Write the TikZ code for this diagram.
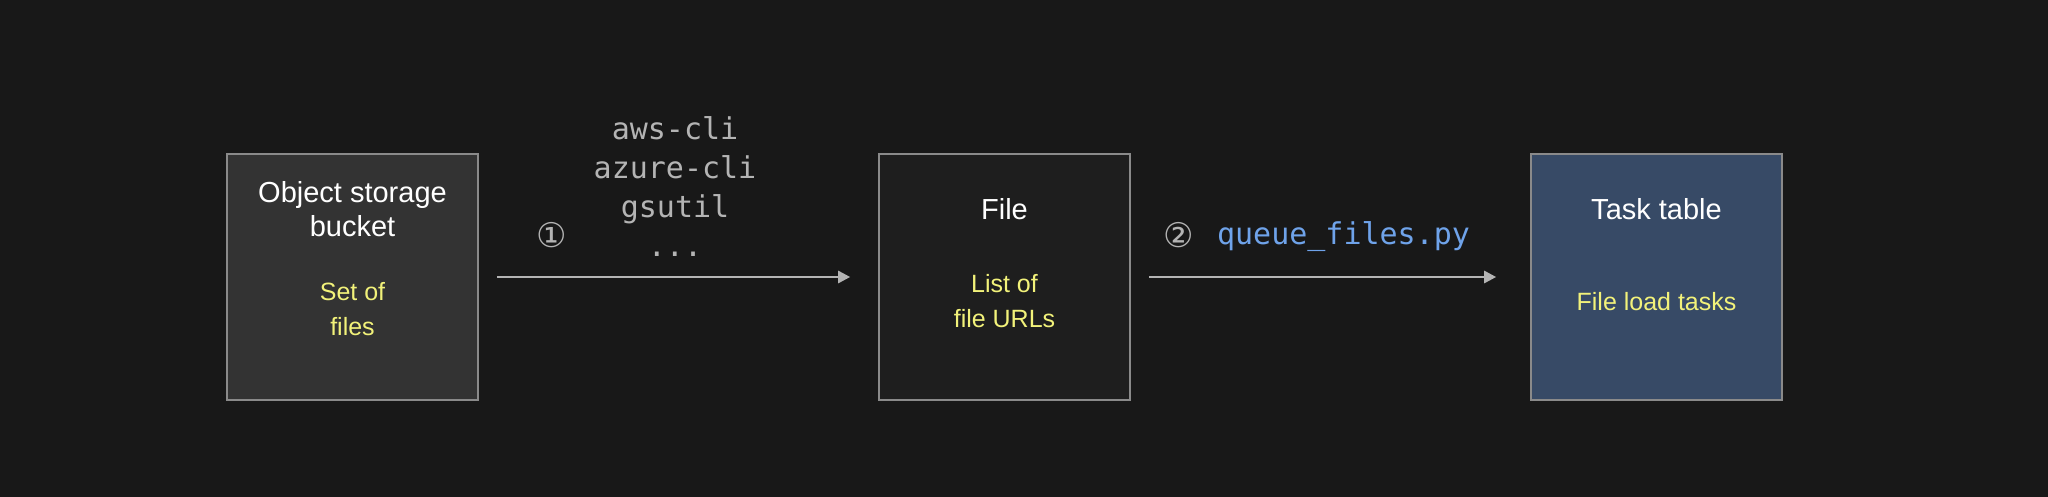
\documentclass[tikz,border=0pt]{standalone}
\usepackage{fontspec}
\setmainfont{Liberation Sans}
\setmonofont{DejaVu Sans Mono}
\newfontfamily\symfont{DejaVu Sans}
\usetikzlibrary{positioning, arrows.meta}
\definecolor{bgcol}{HTML}{181818}
\definecolor{bucketcol}{HTML}{333333}
\definecolor{filecol}{HTML}{1E1E1E}
\definecolor{taskcol}{HTML}{374A66}
\definecolor{edgecol}{HTML}{8A8A8A}
\definecolor{notecol}{HTML}{F2F27A}
\definecolor{toolcol}{HTML}{B4B4B4}
\definecolor{scriptcol}{HTML}{6FA3EA}

\begin{document}
\begin{tikzpicture}[x=0.5pt,y=-0.5pt,
  box/.style={draw=edgecol, line width=0.8pt, minimum width=125.5pt, minimum height=123pt, inner sep=0pt},
  title/.style={text=white, font=\fontsize{14.5}{17}\selectfont, align=center},
  note/.style={text=notecol, font=\fontsize{12.5}{17.5}\selectfont, align=center},
  tool/.style={text=toolcol, font=\ttfamily\fontsize{15}{19.5}\selectfont, align=center},
  stepnum/.style={text=toolcol, font=\symfont\fontsize{17}{17}\selectfont},
  flow/.style={draw=toolcol, line width=1.3pt, -{Triangle[length=6pt,width=6pt]}}]
  \fill[bgcol] (0,0) rectangle (2048,497);
  \useasboundingbox (0,0) rectangle (2048,497);
  % boxes
  \node[box, fill=bucketcol] (bucket) at (352.5,277) {};
  \node[box, fill=filecol] (file) at (1004.5,277) {};
  \node[box, fill=taskcol] (task) at (1656.5,277) {};
  % texts in the boxes
  \node[title] (buckettitle) at (352.5,209) {Object storage\\bucket};
  \node[note] (bucketnote) at (352.5,309) {Set of\\files};
  \node[title] (filetitle) at (1004.5,209) {File};
  \node[note] (filenote) at (1004.5,301) {List of\\file URLs};
  \node[title] (tasktitle) at (1656.5,209) {Task table};
  \node[note] (tasknote) at (1656.5,302) {File load tasks};
  % arrows
  \draw[flow] (bucket.east) ++(18,0) coordinate (a1) -- ([xshift=-14]file.west);
  \draw[flow] (file.east) ++(18,0) coordinate (a2) -- ([xshift=-17]task.west);
  % labels
  \node[tool] (tools) at (675,187) {aws-cli\\azure-cli\\gsutil\\...};
  \node[stepnum] (one) at (552,235) {①};
  \node[stepnum] (two) at (1179,235) {②};
  \node[tool, text=scriptcol, anchor=west] (script) at (1210,237) {queue\_files.py};
\end{tikzpicture}
\end{document}
